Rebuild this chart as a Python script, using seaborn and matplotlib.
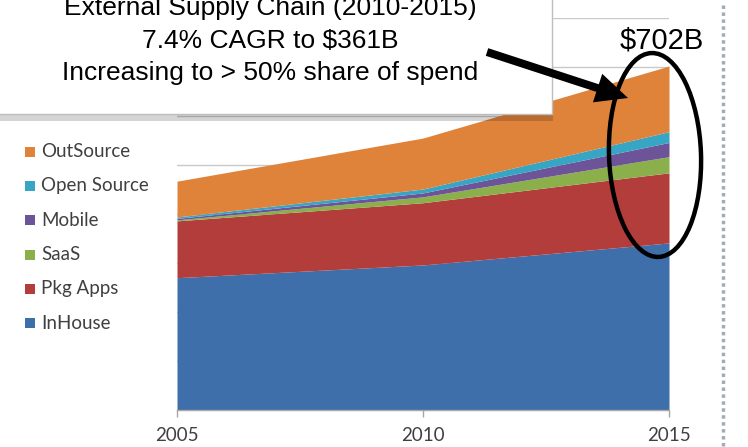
import matplotlib
matplotlib.use("Agg")
import matplotlib.pyplot as plt
from matplotlib.patches import Rectangle, Ellipse, FancyArrow
import seaborn as sns

# ---- data ----
years = [2005, 2010, 2015]
xtick_labels = ["2005", "2010", "2015"]
series_names = ["InHouse", "Pkg Apps", "SaaS", "Mobile", "Open Source", "OutSource"]
inhouse = [270, 296, 341]
pkg_apps = [116, 127, 143]
saas = [2, 12, 33]
mobile = [3, 8, 29]
open_source = [3, 8, 22]
outsource = [73, 104, 134]
colors = ["#3F6FAA", "#B23D3A", "#8BB04B", "#6D5499", "#37A5C4", "#E0833A"]
box_lines = ["External Supply Chain (2010-2015)",
             "7.4% CAGR to $361B",
             "Increasing to > 50% share of spend"]

sns.set_style("white")
plt.rcParams["font.family"] = ["Lato", "DejaVu Sans"]

W, H = 748, 447
fig = plt.figure(figsize=(W / 100, H / 100), dpi=100)
fig.patch.set_facecolor("white")

# main axes (pixel geometry: x 177..669, y 18..410 from top)
ax = fig.add_axes([177 / W, 37 / H, 492 / W, 392 / H])
values = [inhouse, pkg_apps, saas, mobile, open_source, outsource]
ax.stackplot(years, *values, colors=colors, linewidth=0, zorder=2)
ax.set_xlim(years[0], years[-1])
ax.set_ylim(0, 800)
ax.set_yticks(range(0, 801, 100))
ax.yaxis.grid(True, color="#c9c9c9", linewidth=1)
ax.xaxis.grid(False)
ax.set_axisbelow(True)
ax.tick_params(axis="y", left=False, labelleft=False)
ax.set_xticks(years)
ax.set_xticklabels(xtick_labels)
ax.tick_params(axis="x", bottom=True, direction="out", length=5, width=1,
               color="#a6a6a6", labelsize=13.5, labelcolor="#404040", pad=7)
sns.despine(ax=ax, left=True, top=True, right=True)
ax.spines["bottom"].set_color("#a6a6a6")
ax.spines["bottom"].set_linewidth(1)
ax.patch.set_alpha(0)

total_2015 = sum(v[-1] for v in values)
ax.text(2014.85, 738, f"${total_2015:.0f}B", ha="center", va="baseline",
        fontsize=21, family=["Liberation Sans", "DejaVu Sans"], color="black",
        clip_on=False, zorder=6)

# overlay axes in pixel coordinates (y downward)
ov = fig.add_axes([0, 0, 1, 1], zorder=5)
ov.set_xlim(0, W)
ov.set_ylim(H, 0)
ov.axis("off")
ov.patch.set_alpha(0)

# legend (manual, left side)
for i, (name, col) in enumerate(zip(series_names[::-1], colors[::-1])):
    y = 151.7 + 34.3 * i
    ov.add_patch(Rectangle((25, y - 5), 10, 10, facecolor=col, edgecolor="none"))
    ov.text(41.5, y, name, va="center", ha="left", fontsize=13.5, color="#404040")

# text box with shadow
ov.add_patch(Rectangle((0, 114), 553, 7, facecolor="black", alpha=0.17, lw=0))
ov.add_patch(Rectangle((-5, -5), 557, 119, facecolor="white", edgecolor="#bdbdbd", lw=1))
for txt, yb in zip(box_lines, [15, 48, 80]):
    ov.text(270, yb, txt, ha="center", va="baseline", fontsize=19,
            family=["Liberation Sans", "DejaVu Sans"], color="black")

# arrow
ov.add_patch(FancyArrow(487, 52, 141, 46, width=8, head_width=30, head_length=32,
                        length_includes_head=True, color="black", lw=0))

# ellipse
ov.add_patch(Ellipse((655, 155), 92, 204, angle=-2, fill=False, edgecolor="black", lw=3.2))

# dotted border line on the right
ov.plot([723, 723], [5, H], linestyle=(0, (1, 1)), lw=2.5, color="#a3abb3")

fig.savefig("out.png", dpi=100, facecolor="white")
